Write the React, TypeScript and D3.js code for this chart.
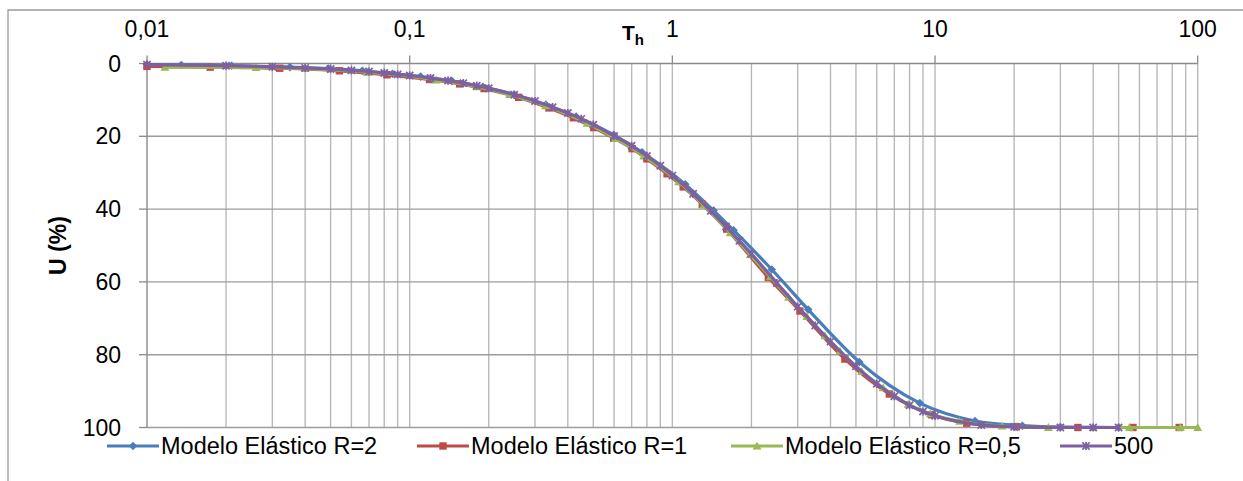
import React from "react";
import * as d3 from "d3";

// Th values and U (%) for each series
const tR2 = [0.01, 0.0135, 0.021, 0.035, 0.049, 0.066, 0.086, 0.11, 0.145, 0.19, 0.25, 0.33, 0.43, 0.598, 0.767, 1.12, 1.435, 1.71, 2.39, 3.29, 5.15, 8.75, 14.2, 21.5, 30, 50];
const uR2 = [0.3, 0.4, 0.6, 1.0, 1.4, 2.0, 2.8, 3.6, 4.8, 6.4, 8.5, 11.3, 14.6, 19.6, 24.4, 33.2, 40.4, 45.8, 56.6, 67.6, 82.0, 93.3, 98.2, 99.5, 99.9, 100];

const tR1 = [0.01, 0.0174, 0.032, 0.054, 0.082, 0.119, 0.155, 0.192, 0.26, 0.339, 0.42, 0.502, 0.598, 0.703, 0.8, 0.955, 1.1, 1.3, 1.61, 2.32, 3.06, 4.54, 6.7, 9.7, 13.2, 20.4, 35, 56.7, 85];
const uR1 = [0.8, 1.0, 1.3, 2.0, 3.1, 4.4, 5.6, 6.9, 9.3, 12.2, 14.9, 17.6, 20.5, 23.4, 26.2, 30.3, 33.9, 38.7, 45.5, 58.8, 68.0, 81.2, 90.8, 96.5, 98.8, 99.8, 100, 100, 100];

const tR05 = [0.0117, 0.026, 0.04, 0.069, 0.126, 0.18, 0.24, 0.329, 0.474, 0.607, 0.778, 1.057, 1.315, 1.66, 1.98, 2.36, 2.77, 3.25, 3.81, 4.35, 5.26, 6.35, 7.9, 9.6, 12.4, 18, 27, 40, 55, 86, 100];
const uR05 = [1.0, 1.1, 1.4, 2.4, 4.5, 6.4, 8.5, 11.6, 16.4, 20.6, 25.4, 32.5, 38.9, 46.5, 52.5, 58.6, 64.2, 69.5, 74.8, 79.0, 84.6, 89.1, 93.6, 96.2, 98.3, 99.6, 100, 100, 100, 100, 100];

const t500 = [0.01, 0.02, 0.03, 0.04, 0.05, 0.06, 0.07, 0.08, 0.09, 0.1, 0.12, 0.14, 0.16, 0.18, 0.2, 0.25, 0.3, 0.35, 0.4, 0.45, 0.5, 0.6, 0.7, 0.8, 0.9, 1, 1.2, 1.4, 1.6, 1.8, 2, 2.5, 3, 3.5, 4, 5, 6, 7, 8, 9, 10, 15, 20, 30, 40, 50];
const u500 = [0.3, 0.6, 0.9, 1.2, 1.5, 1.9, 2.2, 2.6, 3.0, 3.3, 4.0, 4.7, 5.4, 6.1, 6.8, 8.6, 10.3, 12.0, 13.6, 15.2, 16.8, 19.9, 22.6, 25.4, 28.1, 30.8, 35.8, 40.5, 44.8, 48.7, 52.3, 60.3, 66.8, 72.0, 76.4, 83.2, 88.0, 91.4, 93.9, 95.6, 96.8, 99.3, 99.8, 100, 100, 100];

const xTicks = [0.01, 0.1, 1, 10, 100];
const xTickLabels = ["0,01", "0,1", "1", "10", "100"];
const yTicks = [0, 20, 40, 60, 80, 100];

const seriesNames = ["Modelo Elástico R=2", "Modelo Elástico R=1", "Modelo Elástico R=0,5", "500"];
const seriesColors = ["#4a7ebb", "#be4b48", "#98b954", "#7d60a0"];
const seriesMarkers = ["diamond", "square", "triangle", "star"];

const W = 1243;
const H = 481;
const FONT = "'Liberation Sans', Arial, sans-serif";

function Marker({ type, x, y, color }: { type: string; x: number; y: number; color: string }) {
  if (type === "diamond") {
    const s = 4.3;
    return <path d={`M${x},${y - s}L${x + s},${y}L${x},${y + s}L${x - s},${y}Z`} fill={color} />;
  }
  if (type === "square") {
    const s = 3.7;
    return <rect x={x - s} y={y - s} width={2 * s} height={2 * s} fill={color} />;
  }
  if (type === "triangle") {
    const s = 4.4;
    return <path d={`M${x},${y - s}L${x + s},${y + s * 0.8}L${x - s},${y + s * 0.8}Z`} fill={color} />;
  }
  const s = 3.6;
  return (
    <path
      d={`M${x - s},${y - s}L${x + s},${y + s}M${x - s},${y + s}L${x + s},${y - s}M${x},${y - s - 0.5}L${x},${y + s + 0.5}`}
      stroke={color}
      strokeWidth={1.7}
      fill="none"
    />
  );
}

export default function App() {
  const x = d3.scaleLog().domain([0.01, 100]).range([147, 1197.7]);
  const y = d3.scaleLinear().domain([0, 100]).range([63.5, 427.5]);

  const minor: number[] = [];
  [0.01, 0.1, 1, 10].forEach((d) => {
    for (let k = 2; k <= 9; k++) minor.push(d * k);
  });

  const series = [
    { t: tR2, u: uR2 },
    { t: tR1, u: uR1 },
    { t: tR05, u: uR05 },
    { t: t500, u: u500 },
  ];

  const line = d3
    .line<[number, number]>()
    .x((d) => x(d[0]))
    .y((d) => y(d[1]))
    .curve(d3.curveMonotoneX);

  // legend layout
  const legendY = 446;
  const legendLineX = [107, 417, 731, 1060];

  return (
    <svg width={W} height={H} style={{ position: "absolute", left: 0, top: 0 }} fontFamily={FONT}>
      <rect x={0} y={0} width={W} height={H} fill="#fff" />
      {/* chart frame */}
      <path d={`M8,${H}L8,10L${W},10`} fill="none" stroke="#9a9a9a" strokeWidth={1.3} />

      {/* vertical grid */}
      {minor.map((d) => (
        <line key={"m" + d} x1={x(d)} x2={x(d)} y1={y(0)} y2={y(100)} stroke="#b9b9b9" strokeWidth={1.4} />
      ))}
      {xTicks.slice(1).map((d) => (
        <line key={"M" + d} x1={x(d)} x2={x(d)} y1={y(0)} y2={y(100)} stroke="#b9b9b9" strokeWidth={1.4} />
      ))}
      {/* horizontal grid */}
      {yTicks.slice(1).map((d) => (
        <line key={"h" + d} x1={x(0.01)} x2={x(100)} y1={y(d)} y2={y(d)} stroke="#9c9c9c" strokeWidth={1.4} />
      ))}

      {/* axes */}
      <line x1={x(0.01)} x2={x(100)} y1={y(0)} y2={y(0)} stroke="#8a8a8a" strokeWidth={1.4} />
      <line x1={x(0.01)} x2={x(0.01)} y1={y(0)} y2={y(100)} stroke="#8a8a8a" strokeWidth={1.4} />
      {xTicks.map((d) => (
        <line key={"xt" + d} x1={x(d)} x2={x(d)} y1={y(0) - 8} y2={y(0)} stroke="#8a8a8a" strokeWidth={1.3} />
      ))}
      {yTicks.map((d) => (
        <line key={"yt" + d} x1={x(0.01) - 8} x2={x(0.01)} y1={y(d)} y2={y(d)} stroke="#8a8a8a" strokeWidth={1.3} />
      ))}

      {/* tick labels */}
      {xTicks.map((d, i) => (
        <text key={"xl" + d} x={x(d)} y={37} textAnchor="middle" fontSize={23} fill="#000">
          {xTickLabels[i]}
        </text>
      ))}
      {yTicks.map((d) => (
        <text key={"yl" + d} x={121} y={y(d) + 8} textAnchor="end" fontSize={23} fill="#000">
          {d}
        </text>
      ))}

      {/* axis titles */}
      <text x={622} y={40} fontSize={21} fontWeight="bold" fill="#000">
        T
        <tspan fontSize={15} dy={5}>h</tspan>
      </text>
      <text
        transform={`translate(66,${(y(0) + y(100)) / 2}) rotate(-90)`}
        textAnchor="middle"
        fontSize={23}
        fontWeight="bold"
        fill="#000"
      >
        U (%)
      </text>

      {/* series */}
      {series.map((s, i) => {
        const pts = s.t.map((t, j) => [t, s.u[j]] as [number, number]);
        return (
          <g key={"s" + i}>
            <path d={line(pts) || ""} fill="none" stroke={seriesColors[i]} strokeWidth={3.2} strokeLinejoin="round" />
            {pts.map((p, j) => (
              <Marker key={j} type={seriesMarkers[i]} x={x(p[0])} y={y(p[1])} color={seriesColors[i]} />
            ))}
          </g>
        );
      })}

      {/* legend */}
      {seriesNames.map((name, i) => (
        <g key={"lg" + i}>
          <line
            x1={legendLineX[i]}
            x2={legendLineX[i] + 52}
            y1={legendY}
            y2={legendY}
            stroke={seriesColors[i]}
            strokeWidth={3.2}
          />
          <Marker type={seriesMarkers[i]} x={legendLineX[i] + 26} y={legendY} color={seriesColors[i]} />
          <text x={legendLineX[i] + 54} y={legendY + 8} fontSize={23.5} fill="#000">
            {name}
          </text>
        </g>
      ))}
    </svg>
  );
}
